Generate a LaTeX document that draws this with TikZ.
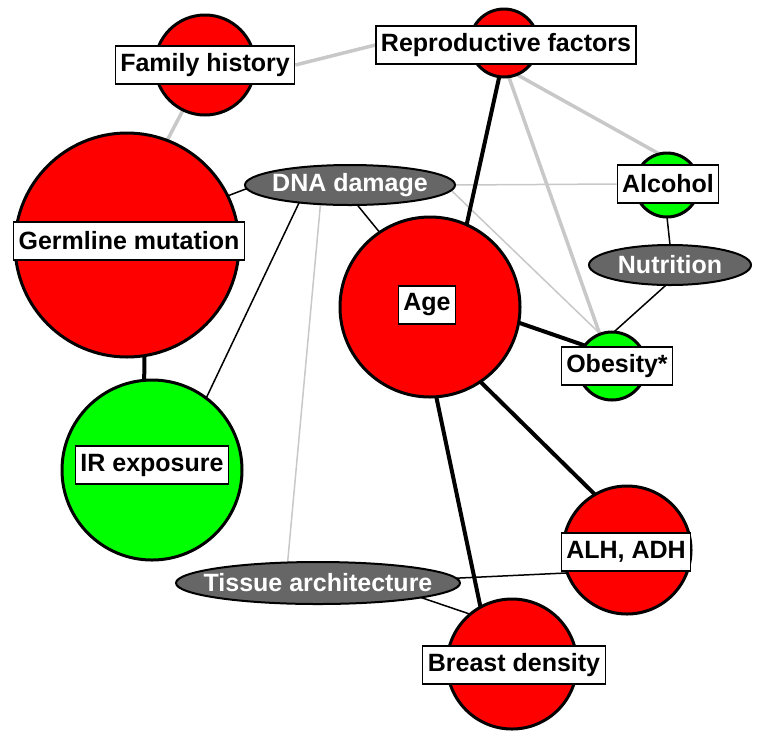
\documentclass[tikz,border=0pt]{standalone}
\usepackage{fontspec}
\setmainfont{Liberation Sans}
\usetikzlibrary{shapes.geometric,backgrounds}
\definecolor{riskred}{RGB}{255,0,0}
\definecolor{riskgreen}{RGB}{0,255,0}
\definecolor{linkgray}{RGB}{200,200,200}
\definecolor{procgray}{RGB}{102,102,102}
\newcommand{\tagfont}{\bfseries\fontsize{25}{30}\selectfont}

\begin{document}
\begin{tikzpicture}[x=1pt, y=-1pt]
  \tikzset{factor/.style={circle, draw, line width=3pt, inner sep=0pt, outer sep=0pt}}
  \tikzset{redball/.style={factor, fill=riskred}}
  \tikzset{greenball/.style={factor, fill=riskgreen}}
  \tikzset{tag/.style={draw, fill=white, line width=1.2pt, inner xsep=5pt, inner ysep=0pt, minimum height=38pt, font=\tagfont}}
  \tikzset{process/.style={ellipse, draw, fill=procgray, line width=2pt, inner sep=0pt, outer sep=0pt, minimum height=40pt}}
  \tikzset{proctext/.style={inner sep=0pt, text=white, font=\tagfont}}
  \tikzset{strong/.style={line width=4pt}}
  \tikzset{weak/.style={line width=1.5pt}}
  \tikzset{faint/.style={draw=linkgray, line width=3.5pt}}
  \tikzset{faintweak/.style={draw=linkgray, line width=1.5pt}}
  \useasboundingbox (0,0) rectangle (762,740);
  % risk factors
  \node[redball, minimum size=100pt] (famhist) at (205,65) {};
  \node[redball, minimum size=224pt] (germline) at (127,245) {};
  \node[redball, minimum size=68pt] (repro) at (504,43) {};
  \node[greenball, minimum size=64pt] (alcohol) at (667,185) {};
  \node[redball, minimum size=180pt] (age) at (430,307) {};
  \node[greenball, minimum size=68pt] (obesity) at (612,366) {};
  \node[greenball, minimum size=180pt] (irexp) at (152,470) {};
  \node[redball, minimum size=128pt] (alhadh) at (627,550) {};
  \node[redball, minimum size=130pt] (density) at (512,664) {};
  % processes
  \node[process, minimum width=210pt, label={[proctext]center:DNA damage}] (dnadamage) at (350,185) {};
  \node[process, minimum width=162pt, label={[proctext]center:Nutrition}] (nutrition) at (670,265) {};
  \node[process, minimum width=284pt, minimum height=42pt, label={[proctext]center:Tissue architecture}] (tissue) at (318,583) {};
  % labels
  \node[tag] (famhisttag) at (205,65) {Family history};
  \node[tag] (germlinetag) at (129,241) {Germline mutation};
  \node[tag] (reprotag) at (506,45) {Reproductive factors};
  \node[tag] (alcoholtag) at (668,184) {Alcohol};
  \node[tag] (agetag) at (427,305) {Age};
  \node[tag] (obesitytag) at (617,366) {Obesity*};
  \node[tag] (irexptag) at (152,465) {IR exposure};
  \node[tag] (alhadhtag) at (626,552) {ALH, ADH};
  \node[tag] (densitytag) at (514,665) {Breast density};
  % links
  \begin{pgfonlayer}{background}
    \draw (famhisttag.east) edge[faint] (reprotag.west);
    \draw (famhist.244) edge[faint] (germline.69);
    \draw (germline.279) edge[strong] (irexp.95);
    \draw (dnadamage.182) edge[weak] (germline.26);
    \draw (dnadamage.199) edge[weak] (irexp.53);
    \draw (dnadamage.213) edge[faintweak] (tissue.146);
    \draw (dnadamage.290) edge[weak] (age.124);
    \draw (dnadamage.east) edge[faintweak] (alcoholtag.west);
    \draw (dnadamage.357) edge[faintweak] (obesity.110);
    \draw (repro.262) edge[strong] (age.66);
    \draw (repro.278) edge[faint] (obesity.111);
    \draw (repro.292) edge[faint] (alcohol.104);
    \draw (alcohol.south) edge[weak] (nutrition.north);
    \draw (nutrition.259) edge[weak] (obesity.87);
    \draw (age.350) edge[strong] (obesity.143);
    \draw (age.304) edge[strong] (alhadh.120);
    \draw (age.274) edge[strong] (density.119);
    \draw (tissue.2) edge[weak] (alhadh.201);
    \draw (tissue.352) edge[weak] (density.130);
  \end{pgfonlayer}
\end{tikzpicture}
\end{document}
